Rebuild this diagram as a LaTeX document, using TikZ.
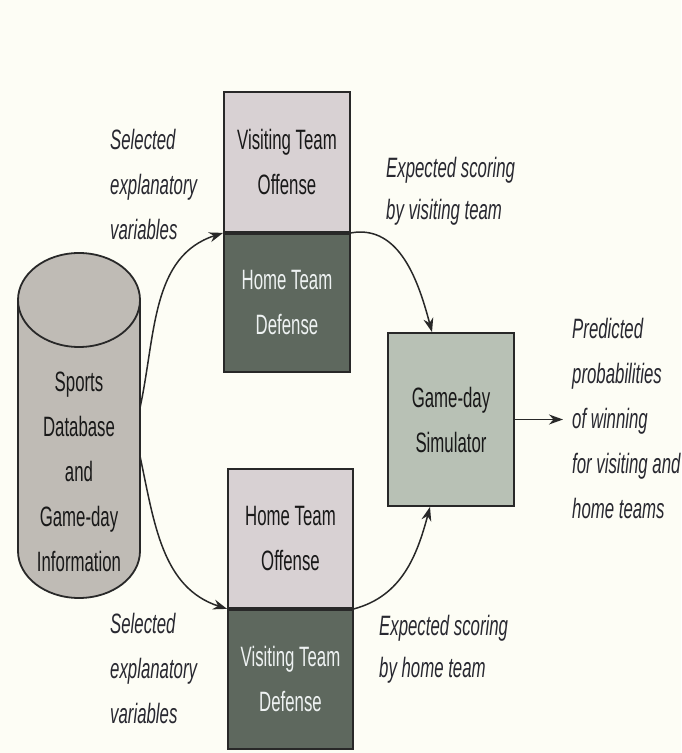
\documentclass[tikz,border=0pt]{standalone}
\usepackage{fontspec}
\setmainfont{Liberation Sans}[FakeStretch=0.6]
\usetikzlibrary{arrows.meta}

\definecolor{bgcol}{RGB}{253,253,245}
\definecolor{lightbox}{RGB}{216,209,211}
\definecolor{darkbox}{RGB}{94,104,94}
\definecolor{simbox}{RGB}{184,193,181}
\definecolor{dbcol}{RGB}{191,187,181}
\definecolor{edgecol}{RGB}{40,40,40}
\definecolor{lighttext}{RGB}{238,242,242}
\definecolor{labeltext}{RGB}{40,40,48}

\begin{document}
\begin{tikzpicture}[x=1pt,y=1pt,
	box/.style={draw=edgecol, line width=1.8pt, minimum width=126pt, inner sep=0pt, align=center, font=\fontsize{28}{45}\selectfont},
	offbox/.style={box, fill=lightbox, text=black!90},
	defbox/.style={box, fill=darkbox, text=lighttext},
	lbl/.style={inner sep=0pt, anchor=west, align=left, text=labeltext, font=\fontsize{28}{45}\selectfont\itshape},
	flow/.style={-{Stealth[length=14pt,width=10pt]}, line width=1.5pt, draw=edgecol}]
	%\draw[help lines] (0,0) grid[step=50] (681,753);
	\fill[bgcol] (0,0) rectangle (681,753);
	\useasboundingbox (0,0) rectangle (681,753);

	% database cylinder
	\fill[dbcol] (18,453)--(18,202) arc[start angle=180, end angle=360, x radius=61, y radius=47]--(140,453)--cycle;
	\draw[edgecol, line width=1.8pt] (18,453)--(18,202) arc[start angle=180, end angle=360, x radius=61, y radius=47]--(140,453);
	\filldraw[fill=dbcol, draw=edgecol, line width=1.8pt] (79,453) ellipse[x radius=61, y radius=47];
	\node[inner sep=0pt, minimum width=122pt, align=center, text=black!90, font=\fontsize{28}{45}\selectfont] (db) at (79,281) {Sports\\Database\\and\\Game-day\\Information};

	% team boxes
	\node[offbox, minimum height=140pt] (vto) at (287,591) {Visiting Team\\Offense};
	\node[defbox, minimum height=138pt, anchor=north] (htd) at (vto.south) {Home Team\\Defense};
	\node[offbox, minimum width=125pt, minimum height=139pt] (hto) at (290.5,214.5) {Home Team\\Offense};
	\node[defbox, minimum width=125pt, minimum height=139pt, anchor=north] (vtd) at (hto.south) {Visiting Team\\Defense};

	% simulator
	\node[box, fill=simbox, text=black!90, minimum height=173pt] (sim) at (451,333.5) {Game-day\\Simulator};

	% labels
	\node[lbl] (sel1) at (110,569) {Selected\\explanatory\\variables};
	\node[lbl] (sel2) at (110,85) {Selected\\explanatory\\variables};
	\node[lbl, font=\fontsize{28}{42}\selectfont\itshape] (exp1) at (386,562) {Expected scoring\\by visiting team};
	\node[lbl, font=\fontsize{28}{42}\selectfont\itshape] (exp2) at (379,104) {Expected scoring\\by home team};
	\node[lbl] (pred) at (572,335) {Predicted\\probabilities\\of winning\\for visiting and\\home teams};
	\coordinate (outend) at (563,333.5);

	% arrows
	\draw[flow] ([yshift=65pt]db.east) to[out=78, in=198] (htd.north west);
	\draw[flow] ([yshift=15pt]db.east) to[out=-78, in=162] (vtd.north west);
	\draw[flow] (vto.south east) to[out=10, in=105] ([xshift=-19pt]sim.north);
	\draw[flow] (hto.south east) to[out=15, in=-105] ([xshift=-21pt]sim.south);
	\draw[flow] (sim.east) -- (outend);
\end{tikzpicture}
\end{document}
